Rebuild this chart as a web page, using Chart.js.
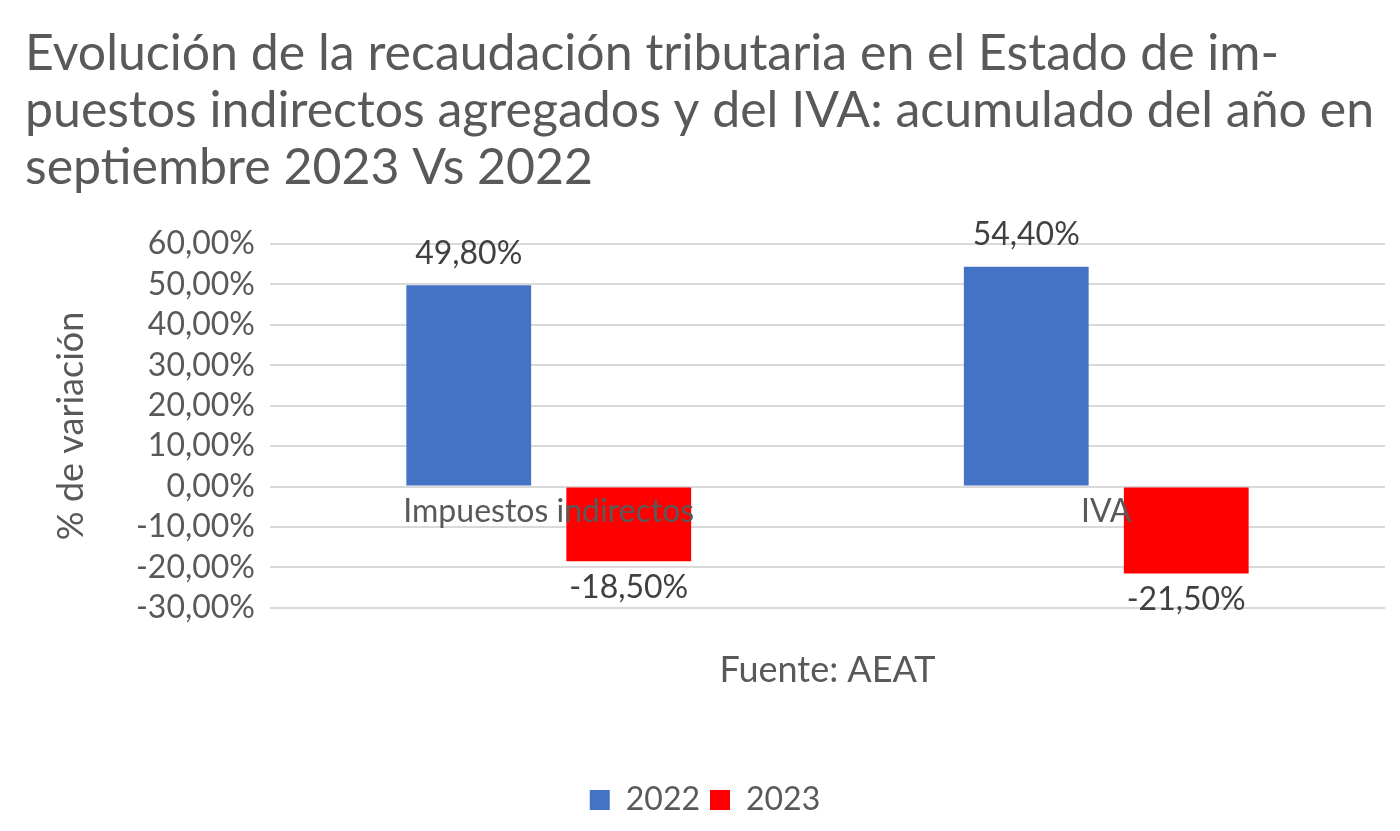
<!DOCTYPE html>
<html>
<head>
<meta charset="utf-8">
<script src="https://cdn.jsdelivr.net/npm/chart.js@4.4.0/dist/chart.umd.min.js"></script>
<style>
  html, body { margin: 0; padding: 0; background: #fff; }
  #wrap { width: 1400px; height: 831px; }
</style>
</head>
<body>
<div id="wrap"><canvas id="chart"></canvas></div>
<script>
var categories = ["Impuestos indirectos", "IVA"];
var seriesNames = ["2022", "2023"];
var values2022 = [49.8, 54.4];
var values2023 = [-18.5, -21.5];
var yMin = -30;
var yMax = 60;
var yStep = 10;
var titleLines = [
  "Evolución de la recaudación tributaria en el Estado de im-",
  "puestos indirectos agregados y del IVA: acumulado del año en",
  "septiembre 2023 Vs 2022"
];

var FONT = "Lato";
var GREY = "#595959";

// numbers with comma decimals, like the original
function fmt(v) {
  return v.toFixed(2).replace(".", ",") + "%";
}

// value labels above/below the bars and the category names on the zero line
var labelPlugin = {
  id: "barLabels",
  afterDatasetsDraw: function(chart) {
    var ctx = chart.ctx;
    ctx.save();
    ctx.font = "32px " + FONT;
    ctx.fillStyle = "#404040";
    ctx.textAlign = "center";
    ctx.textBaseline = "middle";
    chart.data.datasets.forEach(function(ds, i) {
      chart.getDatasetMeta(i).data.forEach(function(bar, j) {
        var v = ds.data[j];
        var y = v >= 0 ? bar.y - 32 : bar.y + 26;
        ctx.fillText(fmt(v), bar.x, y);
      });
    });
    var yZero = chart.scales.y.getPixelForValue(0);
    ctx.fillStyle = GREY;
    categories.forEach(function(c, j) {
      ctx.fillText(c, chart.scales.x.getPixelForValue(j), yZero + 25);
    });
    ctx.restore();
  }
};

new Chart(document.getElementById("chart"), {
  type: "bar",
  data: {
    labels: categories,
    datasets: [{
      label: seriesNames[0],
      data: values2022,
      backgroundColor: "#4472C4",
      categoryPercentage: 0.574,
      barPercentage: 0.78
    }, {
      label: seriesNames[1],
      data: values2023,
      backgroundColor: "#FF0000",
      categoryPercentage: 0.574,
      barPercentage: 0.78
    }]
  },
  options: {
    responsive: true,
    maintainAspectRatio: false,
    animation: false,
    layout: { padding: { left: 25, right: 15, top: 0, bottom: 5 } },
    plugins: {
      title: {
        display: true,
        text: titleLines,
        align: "start",
        color: GREY,
        font: { family: FONT, size: 50, weight: "normal", lineHeight: 1.14 },
        padding: { top: 25, bottom: 48 }
      },
      legend: {
        position: "bottom",
        labels: {
          color: GREY,
          font: { family: FONT, size: 32 },
          boxWidth: 20,
          boxHeight: 20,
          padding: 10
        }
      },
      tooltip: { enabled: false }
    },
    scales: {
      x: {
        grid: { display: false },
        border: { display: false },
        ticks: { display: false },
        title: {
          display: true,
          text: "Fuente: AEAT",
          color: GREY,
          font: { family: FONT, size: 36 },
          padding: { top: 33, bottom: 82 }
        }
      },
      y: {
        min: yMin,
        max: yMax,
        ticks: {
          stepSize: yStep,
          autoSkip: false,
          color: GREY,
          font: { family: FONT, size: 32, lineHeight: 1 },
          padding: 15,
          callback: function(v) { return fmt(v); }
        },
        grid: { color: "#d9d9d9", lineWidth: 2, drawTicks: false },
        border: { display: false },
        title: {
          display: true,
          text: "% de variación",
          color: GREY,
          font: { family: FONT, size: 36 },
          padding: { top: 25, bottom: 0 }
        },
        afterFit: function(scale) { scale.width = 245; }
      }
    }
  },
  plugins: [labelPlugin]
});
</script>
</body>
</html>
